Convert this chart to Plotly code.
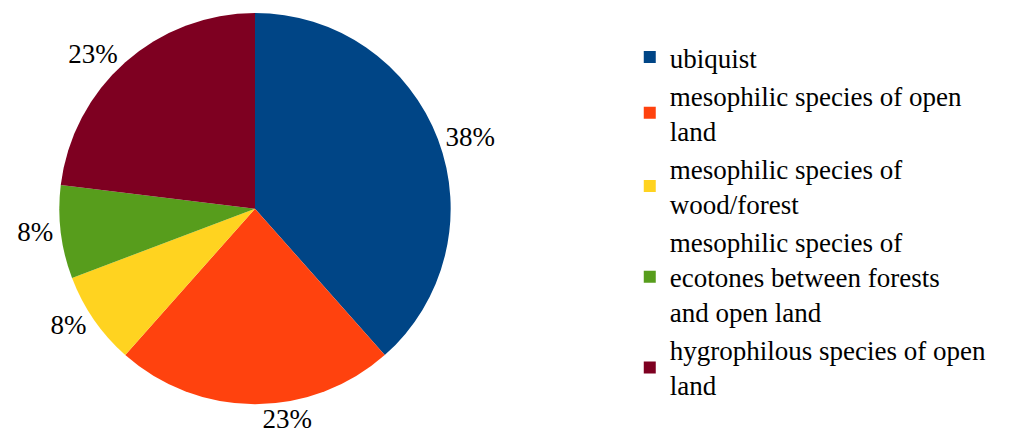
import plotly.graph_objects as go

categories = [
    "ubiquist",
    "mesophilic species of open<br>land",
    "mesophilic species of<br>wood/forest",
    "mesophilic species of<br>ecotones between forests<br>and open land",
    "hygrophilous species of open<br>land",
]
species_counts = [5, 3, 1, 1, 3]
colors = ["#004586", "#ff420e", "#ffd320", "#579d1c", "#7e0021"]

W, H = 1011, 443
OFF = 8  # page body margin
cx, cy, r = 255 - OFF, 207 - OFF, 197

fig = go.Figure(go.Pie(
    labels=categories,
    values=species_counts,
    sort=False,
    direction="clockwise",
    rotation=0,
    marker=dict(colors=colors, line=dict(width=0)),
    textinfo="percent",
    texttemplate="%{percent:.0%}",
    textposition="outside",
    textfont=dict(family="Liberation Serif", size=27, color="black"),
    outsidetextfont=dict(family="Liberation Serif", size=27, color="black"),
    domain=dict(x=[(cx - r) / W, (cx + r) / W], y=[(H - cy - r) / H, (H - cy + r) / H]),
))

fig.update_layout(
    width=W, height=H,
    margin=dict(l=0, r=0, t=0, b=0),
    paper_bgcolor="white",
    showlegend=True,
    legend=dict(
        x=0.615, y=0.95, xanchor="left", yanchor="top",
        font=dict(family="Liberation Serif", size=27, color="black"),
        tracegroupgap=0,
    ),
)

fig.write_html("out.html")
